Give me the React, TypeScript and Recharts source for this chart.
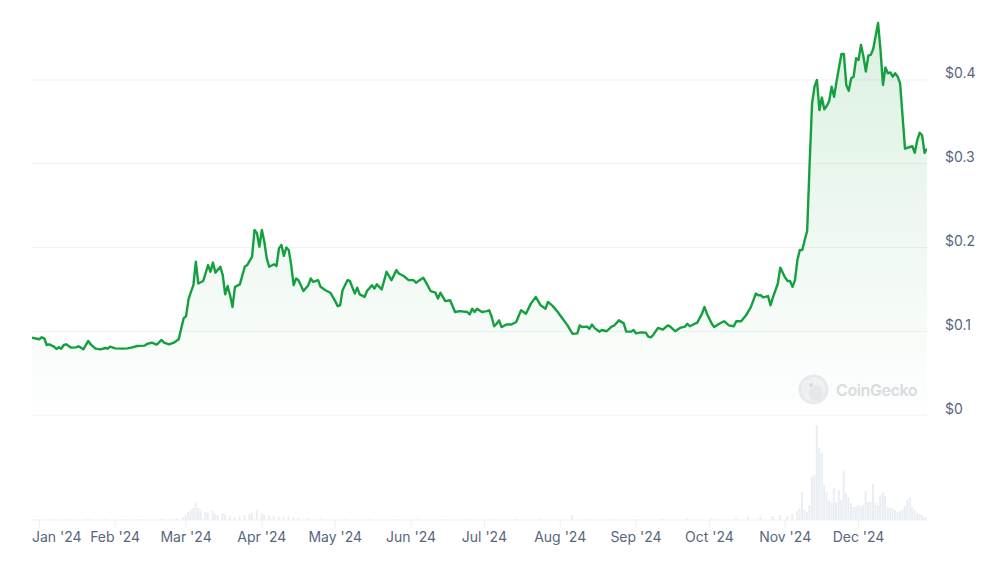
import React from "react";
import {
  ComposedChart,
  Area,
  Bar,
  XAxis,
  YAxis,
  CartesianGrid,
} from "recharts";

// Day offsets from 1 Jan 2024 (0 = 1 Jan)
const priceDays = [
  -3, 0, 1, 2, 3, 4, 6, 7, 8, 9, 10, 11, 13, 15, 16, 17, 18, 20, 21, 23, 25, 27, 28, 29, 31, 34, 36, 38, 40, 43, 44, 46, 48, 50, 51, 53, 55, 57,
  59, 60, 61, 62, 63, 64, 65, 67, 69, 70, 71, 72, 74, 75, 76, 77, 78, 79, 80, 82, 84, 85, 87, 88, 89, 90, 91, 92, 93, 94, 96, 97, 98, 99, 100,
  101, 102, 103, 104, 105, 106, 108, 110, 111, 112, 114, 115, 117, 119, 121, 122, 123, 124, 126, 127, 129, 130, 131, 133, 134, 136, 137, 138,
  140, 142, 144, 146, 147, 149, 151, 153, 154, 157, 158, 160, 162, 163, 164, 166, 168, 170, 172, 175, 176, 177, 178, 179, 181, 183, 184, 185,
  186, 187, 188, 189, 191, 193, 195, 197, 199, 201, 203, 205, 207, 208, 210, 212, 214, 216, 218, 220, 221, 222, 224, 225, 226, 227, 229, 230,
  232, 234, 235, 237, 239, 240, 242, 243, 244, 246, 248, 249, 250, 251, 253, 255, 257, 258, 260, 262, 264, 265, 266, 268, 269, 271, 272, 273,
  275, 276, 278, 280, 282, 284, 285, 287, 289, 291, 293, 294, 295, 296, 298, 299, 300, 302, 303, 305, 306, 307, 308, 309, 310, 311, 312, 313,
  314, 315, 316, 317, 318, 319, 320, 321, 322, 323, 324, 325, 326, 328, 329, 330, 331, 332, 333, 334, 335, 336, 337, 338, 339, 340, 341, 343,
  344, 345, 346, 347, 348, 349, 350, 351, 352, 354, 356, 357, 358, 359, 360, 361, 362, 363,
];

const priceValues = [
  0.0923, 0.0904, 0.0928, 0.0916, 0.0836, 0.0844, 0.0816, 0.0788, 0.0808, 0.0792, 0.0836, 0.0844, 0.0804, 0.0808, 0.082, 0.0804, 0.0784, 0.0884,
  0.0844, 0.0792, 0.0784, 0.08, 0.0792, 0.0816, 0.0796, 0.0792, 0.0796, 0.0808, 0.0824, 0.0828, 0.0848, 0.0864, 0.084, 0.0896, 0.0864, 0.0844,
  0.0864, 0.0904,
  0.1154, 0.118, 0.138, 0.147, 0.155, 0.183, 0.157, 0.16, 0.179, 0.171, 0.182, 0.17, 0.177, 0.167, 0.144, 0.154, 0.143, 0.129, 0.153, 0.156,
  0.177, 0.179, 0.189, 0.221, 0.217, 0.201, 0.221, 0.207, 0.187, 0.177, 0.18, 0.178, 0.199, 0.203, 0.19,
  0.2, 0.197, 0.179, 0.155, 0.163, 0.161, 0.148, 0.155, 0.163, 0.159, 0.161, 0.153, 0.149, 0.146, 0.136, 0.13, 0.131, 0.149, 0.161, 0.16,
  0.145, 0.152, 0.144, 0.141, 0.148, 0.155, 0.151, 0.156,
  0.15, 0.171, 0.161, 0.173, 0.169, 0.166, 0.161, 0.161, 0.158, 0.164, 0.159, 0.148, 0.146, 0.139, 0.146, 0.136, 0.137, 0.123, 0.124, 0.123,
  0.12, 0.127, 0.123, 0.127, 0.123, 0.124, 0.125, 0.117,
  0.106, 0.109, 0.113, 0.105, 0.108, 0.108, 0.111, 0.125, 0.121, 0.133, 0.141, 0.131, 0.127, 0.135, 0.13, 0.123, 0.115, 0.107, 0.097, 0.0975,
  0.107, 0.105, 0.1055, 0.103, 0.108, 0.104, 0.0995, 0.1015,
  0.1, 0.1055, 0.1066, 0.113, 0.1094, 0.0995, 0.0995, 0.1015, 0.0975, 0.0987, 0.0983, 0.0935, 0.0928, 0.0955, 0.104, 0.102, 0.107, 0.1055,
  0.1, 0.104, 0.1055, 0.109, 0.106, 0.109, 0.11, 0.121, 0.129, 0.121,
  0.109, 0.105, 0.109, 0.112, 0.107, 0.106, 0.112, 0.112, 0.119, 0.129, 0.145, 0.143, 0.143, 0.1405, 0.142, 0.131, 0.1405, 0.157, 0.176,
  0.164, 0.16, 0.16, 0.153, 0.161, 0.185, 0.197, 0.197, 0.209,
  0.22, 0.3, 0.372, 0.392, 0.4, 0.364, 0.379, 0.365, 0.369, 0.375, 0.392, 0.38, 0.398, 0.431, 0.431, 0.394, 0.387, 0.402, 0.404, 0.426,
  0.424, 0.442, 0.428, 0.41, 0.429, 0.43, 0.437, 0.468,
  0.435, 0.394, 0.415, 0.408, 0.409, 0.404, 0.408, 0.404, 0.396, 0.318, 0.32, 0.321, 0.313, 0.328, 0.337, 0.334, 0.313, 0.318,
];

// Trading volume (USD millions)
const volumeDays = [
  -2, 5, 12, 20, 27, 35, 42, 50, 56,
  59, 60, 61, 62, 63, 64, 65, 66, 68, 69, 71, 72, 73, 75, 76, 78, 80, 82, 84, 86, 87, 89, 91, 92, 94, 96, 98, 100, 102, 104, 106, 110,
  115, 125, 135, 145, 155, 165, 175, 185, 195, 205, 218, 225, 235, 245, 255, 265, 275, 285, 290, 295, 300,
  303, 306, 308, 310, 311, 312, 313, 314, 315, 316, 317, 318, 319, 320, 321, 322, 323, 324, 325, 326, 327, 328, 329, 330, 331, 332, 333,
  334, 335, 336, 337, 338, 339, 340, 341, 342, 343, 344, 345, 346, 347, 348, 349, 350, 351, 352, 353, 354, 355, 356, 357, 358, 359, 360,
  361, 362, 363,
];

const volumeValues = [
  10, 10, 10, 15, 10, 10, 10, 15, 15,
  30, 50, 80, 100, 120, 180, 120, 90, 80, 70, 90, 60, 50, 70, 50, 40, 30, 40, 50, 60, 70, 100, 70, 50, 40, 40, 30, 30, 40, 30, 20, 20,
  15, 10, 10, 10, 15, 10, 10, 10, 10, 15, 50, 10, 10, 10, 15, 15, 20, 20, 30, 30, 40,
  50, 40, 60, 90, 120, 280, 100, 80, 150, 430, 450, 950, 720, 670, 350, 280, 190, 180, 320, 180, 300, 200, 500, 270, 230, 170, 130,
  130, 150, 140, 150, 290, 180, 180, 360, 170, 150, 250, 280, 240, 130, 120, 120, 100, 80, 90, 100, 140, 200, 230, 130, 100, 70, 60,
  50, 30, 30,
];

const monthTicks = [0, 31, 60, 91, 121, 152, 182, 213, 244, 274, 305, 335];
const monthLabels = ["Jan '24", "Feb '24", "Mar '24", "Apr '24", "May '24", "Jun '24", "Jul '24", "Aug '24", "Sep '24", "Oct '24", "Nov '24", "Dec '24"];
const priceTicks = [0, 0.1, 0.2, 0.3, 0.4];

const FONT = "Inter, 'Noto Sans', 'DejaVu Sans', sans-serif";
const TEXT_COLOR = "#58667e";
const GREEN = "#14a03f";

const priceMap = new Map<number, number>();
priceDays.forEach((d, i) => priceMap.set(d, priceValues[i]));
const volMap = new Map<number, number>();
volumeDays.forEach((d, i) => volMap.set(d, volumeValues[i]));

const tableData: { day: number; price?: number; volume?: number }[] = [];
for (let d = -3; d <= 363; d++) {
  tableData.push({ day: d, price: priceMap.get(d), volume: volMap.get(d) });
}

const XTick = (props: any) => {
  const { x, y, payload, index } = props;
  const label = monthLabels[monthTicks.indexOf(payload.value)];
  const first = index === 0;
  return (
    <text
      x={first ? 32 : x}
      y={y}
      dy="0.71em"
      textAnchor={first ? "start" : "middle"}
      fill={TEXT_COLOR}
      fontSize={14}
      fontFamily={FONT}
    >
      {label}
    </text>
  );
};

const YTick = (props: any) => {
  const { x, y, payload } = props;
  return (
    <text x={x} y={y - 1.5} textAnchor="start" fill={TEXT_COLOR} fontSize={14} fontFamily={FONT}>
      {"$" + payload.value}
    </text>
  );
};

export default function App() {
  return (
    <div
      style={{
        position: "absolute",
        left: 0,
        top: 0,
        width: 1000,
        height: 563,
        background: "#ffffff",
        overflow: "hidden",
      }}
    >
      <ComposedChart
        width={1000}
        height={563}
        data={tableData}
        margin={{ top: 10, right: 0, bottom: 0, left: 32 }}
      >
        <defs>
          <linearGradient id="priceFill" x1="0" y1="0" x2="0" y2="1">
            <stop offset="0%" stopColor={GREEN} stopOpacity={0.26} />
            <stop offset="55%" stopColor={GREEN} stopOpacity={0.11} />
            <stop offset="100%" stopColor={GREEN} stopOpacity={0.01} />
          </linearGradient>
        </defs>
        <CartesianGrid
          yAxisId="price"
          vertical={false}
          horizontalValues={priceTicks}
          syncWithTicks={false}
          stroke="#f1f2f4"
          strokeWidth={1}
        />
        <XAxis
          dataKey="day"
          type="number"
          domain={[-3, 363]}
          allowDataOverflow
          ticks={monthTicks}
          tick={<XTick />}
          height={43}
          axisLine={{ stroke: "#eef0f3" }}
          tickLine={{ stroke: "#eef0f3" }}
          tickSize={8}
          tickMargin={4}
          interval={0}
        />
        <YAxis
          yAxisId="price"
          orientation="right"
          type="number"
          domain={[-0.12537, 0.48358]}
          allowDataOverflow
          ticks={priceTicks}
          tick={<YTick />}
          width={73}
          axisLine={false}
          tickLine={false}
          tickSize={0}
          tickMargin={18}
          interval={0}
        />
        <YAxis yAxisId="vol" hide type="number" domain={[0, 5100]} allowDataOverflow />
        <Bar
          yAxisId="vol"
          dataKey="volume"
          fill="#eaeef2"
          barSize={2}
          isAnimationActive={false}
        />
        <Area
          yAxisId="price"
          type="linear"
          dataKey="price"
          baseValue={0}
          stroke={GREEN}
          strokeWidth={2.4}
          strokeLinejoin="round"
          fill="url(#priceFill)"
          connectNulls
          dot={false}
          activeDot={false}
          isAnimationActive={false}
        />
      </ComposedChart>
      <div
        style={{
          position: "absolute",
          left: 798,
          top: 374,
          display: "flex",
          alignItems: "center",
          pointerEvents: "none",
          opacity: 0.85,
        }}
      >
        <svg width={31} height={31} viewBox="0 0 31 31">
          <circle cx={15.5} cy={15.5} r={15} fill="#e4e6ea" />
          <circle cx={15.5} cy={15.5} r={12} fill="#eceef1" />
          <ellipse cx={18} cy={19} rx={7} ry={8} fill="#e2e4e8" />
          <circle cx={13} cy={11} r={2} fill="#d6d9de" />
        </svg>
        <span
          style={{
            marginLeft: 7,
            fontFamily: FONT,
            fontSize: 16,
            fontWeight: 600,
            color: "#d3d6db",
            letterSpacing: -0.4,
          }}
        >
          CoinGecko
        </span>
      </div>
    </div>
  );
}
